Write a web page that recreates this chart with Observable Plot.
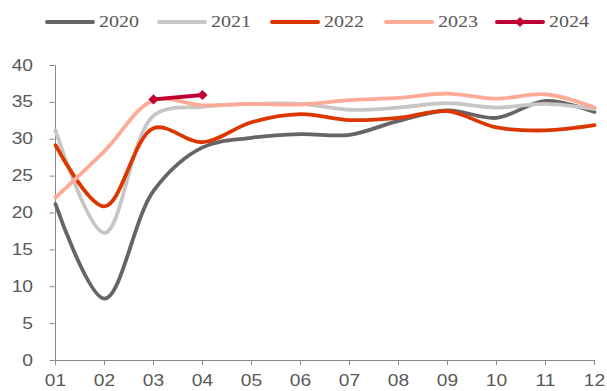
<!DOCTYPE html>
<html>
<head>
<meta charset="utf-8">
<script src="https://cdn.jsdelivr.net/npm/d3@7"></script>
<script src="https://cdn.jsdelivr.net/npm/@observablehq/plot@0.6"></script>
<style>
  html, body { margin: 0; padding: 0; background: #fff; }
  #wrap { width: 607px; height: 391px; position: relative; overflow: hidden; }
  #legend { position: relative; width: 607px; height: 40px; }
  .item { position: absolute; top: 12px; height: 20px; display: flex; align-items: center; }
  .item svg { display: block; }
  .item span { font-family: "Liberation Serif", "Times New Roman", serif; font-size: 16px; color: #595959;
    display: inline-block; transform: scaleX(1.25); transform-origin: left center; margin-left: 4px; line-height: 20px; }
  #chart svg text { fill: #595959; }
</style>
</head>
<body>
<div id="wrap">
  <div id="legend"></div>
  <div id="chart"></div>
</div>
<script>
const months = ["01","02","03","04","05","06","07","08","09","10","11","12"];
const years = ["2020","2021","2022","2023","2024"];
const v2020 = [21.2, 8.4, 23.0, 28.9, 30.2, 30.7, 30.6, 32.5, 33.9, 32.9, 35.2, 33.7];
const v2021 = [31.2, 17.3, 33.2, 34.4, 34.8, 34.8, 34.0, 34.3, 34.9, 34.3, 34.8, 34.1];
const v2022 = [29.2, 20.9, 31.5, 29.6, 32.3, 33.4, 32.6, 32.9, 33.8, 31.6, 31.2, 31.9];
const v2023 = [22.1, 28.4, 35.3, 34.6, 34.8, 34.7, 35.3, 35.6, 36.2, 35.5, 36.1, 34.3];
const v2024 = [null, null, 35.4, 36.0];
const yTicks = [0, 5, 10, 15, 20, 25, 30, 35, 40];
const colors = {"2020": "#676463", "2021": "#c6c6c6", "2022": "#dd3700", "2023": "#fdab97", "2024": "#c00033"};

const seriesVals = {"2020": v2020, "2021": v2021, "2022": v2022, "2023": v2023, "2024": v2024};
const rows = [];
for (const y of years) {
  seriesVals[y].forEach((v, i) => { if (v != null) rows.push({year: y, month: months[i], value: v}); });
}
const smooth = rows.filter(d => d.year !== "2024");
const y24 = rows.filter(d => d.year === "2024");

// legend
const legend = document.getElementById("legend");
const legendLeft = [45, 157, 270, 384, 495];
years.forEach((y, i) => {
  const it = document.createElement("div");
  it.className = "item";
  it.style.left = legendLeft[i] + "px";
  const marker = y === "2024" ? `<path d="M25,5 L30,10 L25,15 L20,10 Z" fill="${colors[y]}"/>` : "";
  it.innerHTML = `<svg width="50" height="20"><line x1="2" x2="48" y1="10" y2="10" stroke="${colors[y]}" stroke-width="4" stroke-linecap="round"/>${marker}</svg><span>${y}</span>`;
  legend.appendChild(it);
});

const plot = Plot.plot({
  width: 607,
  height: 351,
  marginLeft: 54.5,
  marginRight: 12,
  marginTop: 25,
  marginBottom: 31,
  style: {fontFamily: "'Liberation Sans', Arial, sans-serif", fontSize: "16px", color: "#898989", background: "#fff"},
  x: {type: "point", domain: months, padding: 0, label: null},
  y: {domain: [0, 40], label: null},
  marks: [
    Plot.axisY({ticks: yTicks, tickSize: 5, tickPadding: 17, label: null, tickFormat: d => String(d)}),
    Plot.axisX({ticks: months, tickSize: 5, tickPadding: 9, label: null}),
    Plot.ruleX([months[0]], {y1: 0, y2: 40, stroke: "#898989", strokeWidth: 1}),
    Plot.ruleY([0], {stroke: "#898989", strokeWidth: 1}),
    Plot.line(smooth, {x: "month", y: "value", z: "year", stroke: d => colors[d.year], strokeWidth: 3.8, curve: "catmull-rom", strokeLinecap: "round", strokeLinejoin: "round"}),
    Plot.line(y24, {x: "month", y: "value", stroke: colors["2024"], strokeWidth: 3.8, strokeLinecap: "round"}),
    Plot.dot(y24, {x: "month", y: "value", symbol: "diamond2", r: 4.6, fill: colors["2024"], stroke: "none"})
  ]
});
document.getElementById("chart").appendChild(plot);
// widen tick labels horizontally to match the reference's stretched glyphs
plot.querySelectorAll("g[aria-label='y-axis tick label'] text, g[aria-label='x-axis tick label'] text").forEach(t => {
  const tr = t.getAttribute("transform") || "";
  t.setAttribute("transform", tr + " scale(1.2,1)");
});
</script>
</body>
</html>
